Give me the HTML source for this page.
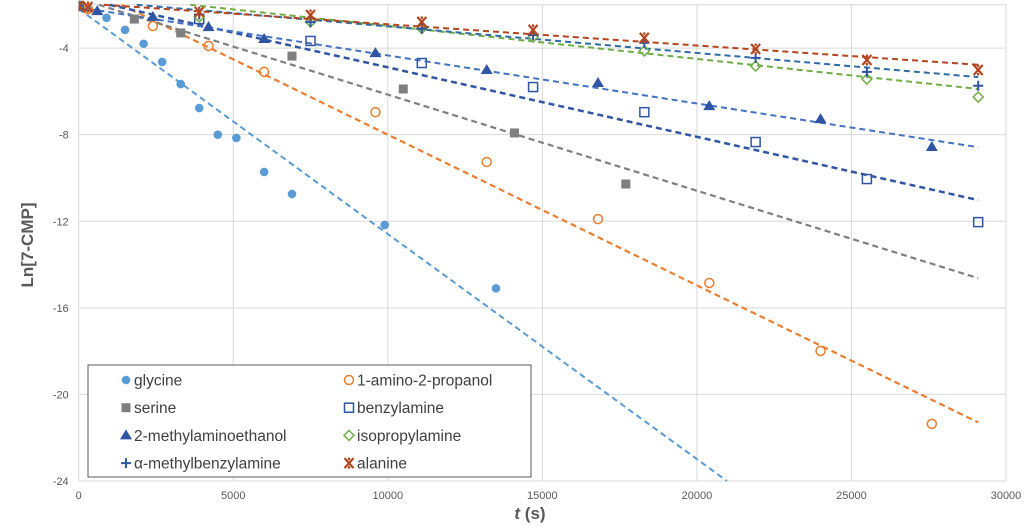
<!DOCTYPE html>
<html><head><meta charset="utf-8"><style>
html,body{margin:0;padding:0;background:#fff;overflow:hidden;width:1024px;height:527px;}
svg{display:block;font-family:"Liberation Sans",sans-serif;overflow:hidden;}
</style></head><body>
<svg id="chart" width="1024" height="527"></svg>
<script>
const xTicks=[0,5000,10000,15000,20000,25000,30000];
const yTicks=[-4,-8,-12,-16,-20,-24];
const seriesNames=["glycine","1-amino-2-propanol","serine","benzylamine","2-methylaminoethanol","isopropylamine","α-methylbenzylamine","alanine"];
const glyT=[0,300,900,1500,2100,2700,3300,3900,4500,5100,6000,6900,9900,13500];
const glyV=[-2.05,-2.15,-2.6,-3.16,-3.8,-4.64,-5.66,-6.77,-8.0,-8.15,-9.72,-10.74,-12.17,-15.1];
const ampT=[0,300,2400,4200,6000,9600,13200,16800,20400,24000,27600];
const ampV=[-2.05,-2.2,-2.98,-3.9,-5.1,-6.96,-9.26,-11.9,-14.85,-17.99,-21.36];
const serT=[0,1800,3300,6900,10500,14100,17700];
const serV=[-2.05,-2.66,-3.3,-4.37,-5.89,-7.92,-10.28];
const benT=[0,3900,7500,11100,14700,18300,21900,25500,29100];
const benV=[-2.05,-2.66,-3.67,-4.69,-5.8,-6.96,-8.34,-10.05,-12.04];
const maeT=[0,600,2400,4200,6000,9600,13200,16800,20400,24000,27600];
const maeV=[-2.05,-2.29,-2.56,-3.03,-3.58,-4.23,-5.01,-5.61,-6.68,-7.28,-8.57];
const ipaT=[0,3900,7500,11100,14700,18300,21900,25500,29100];
const ipaV=[-2.05,-2.56,-2.79,-3.1,-3.49,-4.13,-4.83,-5.43,-6.26];
const mbaT=[0,3900,7500,11100,14700,18300,21900,25500,29100];
const mbaV=[-2.05,-2.45,-2.8,-3.1,-3.4,-3.76,-4.45,-5.1,-5.74];
const alaT=[0,300,3900,7500,11100,14700,18300,21900,25500,29100];
const alaV=[-2.05,-2.1,-2.33,-2.47,-2.79,-3.16,-3.53,-4.04,-4.55,-5.01];
const trendSlope=[-1.04e-3,-6.96e-4,-4.44e-4,-3.21e-4,-2.22e-4,-1.525e-4,-1.227e-4,-9.8e-5];
const trendIntercept=[-2.19,-1.04,-1.71,-1.68,-2.12,-1.45,-1.77,-1.92];

const L=78.7,R=1006,T=4.8,B=481;
const X=t=>L+(t/30000)*(R-L);
const Y=v=>T+((-2-v)/22)*(B-T);
const NS="http://www.w3.org/2000/svg";
const svg=document.getElementById('chart');
function mk(tag,at,parent){const e=document.createElementNS(NS,tag);for(const k in at)e.setAttribute(k,at[k]);(parent||svg).appendChild(e);return e;}

const grid=mk('g',{});


yTicks.forEach(v=>{
  mk('line',{x1:L,x2:R,y1:Y(v),y2:Y(v),stroke:'#d9d9d9','stroke-width':1},grid);
  const t=mk('text',{x:L-10,y:Y(v)+4,'text-anchor':'end','font-size':11,fill:'#595959'});
  t.textContent=v;
  
  
});
xTicks.forEach(v=>{
  mk('line',{x1:X(v),x2:X(v),y1:T,y2:B,stroke:'#d9d9d9','stroke-width':1},grid);
  const t=mk('text',{x:X(v),y:B+18,'text-anchor':'middle','font-size':11,fill:'#595959'});
  t.textContent=v;
  
  
});
mk('line',{x1:L,x2:R,y1:T,y2:T,stroke:'#d9d9d9'},grid);

const colors=['#5b9bd5','#ed7d31','#7f7f7f','#2f55a4','#2f55a4','#70ad47','#2f55a4','#b4451f'];
const lineColors=['#5b9bd5','#ed7d31','#7f7f7f','#2f55a4','#4472c4','#70ad47','#2f6ba4','#b4451f'];
const lineW=[2,2.2,2.2,2.5,2,2,2,2];
const data=[[glyT,glyV],[ampT,ampV],[serT,serV],[benT,benV],[maeT,maeV],[ipaT,ipaV],[mbaT,mbaV],[alaT,alaV]];

const clip=mk('clipPath',{id:'pc'});mk('rect',{x:L,y:T-4,width:R-L,height:B-T+4},clip);

function marker(i,x,y,g){
  const c=colors[i];
  if(i===0) return mk('circle',{cx:x,cy:y,r:4.3,fill:c},g);
  if(i===1) return mk('circle',{cx:x,cy:y,r:4.5,fill:'none',stroke:c,'stroke-width':1.5},g);
  if(i===2) return mk('rect',{x:x-4.5,y:y-4.5,width:9,height:9,fill:c},g);
  if(i===3) return mk('rect',{x:x-4.5,y:y-4.5,width:9,height:9,fill:'none',stroke:c,'stroke-width':1.5},g);
  if(i===4) return mk('polygon',{points:`${x},${y-6} ${x+6},${y+4} ${x-6},${y+4}`,fill:c},g);
  if(i===5) return mk('polygon',{points:`${x},${y-5} ${x+5},${y} ${x},${y+5} ${x-5},${y}`,fill:'none',stroke:c,'stroke-width':1.5},g);
  if(i===6) return mk('path',{d:`M${x-5} ${y}H${x+5}M${x} ${y-5}V${y+5}`,stroke:c,'stroke-width':2},g);
  return mk('path',{d:`M${x-4.5} ${y-5}L${x+4.5} ${y+5}M${x+4.5} ${y-5}L${x-4.5} ${y+5}M${x} ${y-5.5}V${y-3}M${x} ${y+3}V${y+5.5}`,stroke:c,'stroke-width':2.2},g);
}

for(let i=0;i<8;i++){
  let tEnd=29100;
  const tBottom=(-24-trendIntercept[i])/trendSlope[i];
  if(tBottom<tEnd) tEnd=tBottom;
  let tStart=0;
  const tTop=(-2-trendIntercept[i])/trendSlope[i];
  if(tTop>0) tStart=tTop;
  const ln=mk('line',{x1:X(tStart),y1:Y(trendIntercept[i]+trendSlope[i]*tStart),x2:X(tEnd),y2:Y(trendIntercept[i]+trendSlope[i]*tEnd),stroke:lineColors[i],'stroke-width':lineW[i],'stroke-dasharray':'6,4'});
  
  
}
for(let i=0;i<8;i++){
  const g=mk('g',{'clip-path':'url(#pc)'});
  
  
  const [ts,vs]=data[i];
  ts.forEach((t,k)=>{const m=marker(i,X(t),Y(vs[k]),g);
    
    });
}
mk('line',{x1:R,x2:R,y1:T,y2:B,stroke:'#d9d9d9'});

const lg=mk('g',{});


mk('rect',{x:88,y:365,width:443,height:112,fill:'#fff',stroke:'#595959','stroke-width':1},lg);
for(let i=0;i<8;i++){
  const col=i%2,row=Math.floor(i/2);
  const mx=col?349:126, my=380+row*27.7;
  const e=mk('g',{},lg);
  
  
  marker(i,mx,my,e);
  const t=mk('text',{x:mx+8,y:my+5.5,'font-size':15.5,fill:'#404040'},e);
  t.textContent=seriesNames[i];
}
const yt=mk('text',{x:0,y:0,transform:'translate(33,245) rotate(-90)','text-anchor':'middle','font-size':17,'font-weight':'bold',fill:'#595959'});
yt.textContent='Ln[7-CMP]';


const xt=mk('text',{x:530,y:519,'text-anchor':'middle','font-size':17,'font-weight':'bold',fill:'#595959'});
xt.innerHTML='<tspan font-style="italic">t</tspan> (s)';


</script>
</body></html>
